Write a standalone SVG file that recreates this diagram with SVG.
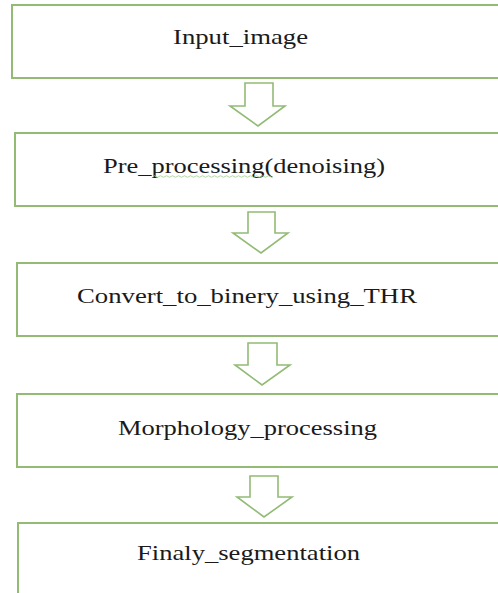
<svg xmlns="http://www.w3.org/2000/svg" width="498" height="593" viewBox="0 0 498 593">
<style>
.box{fill:#fff;stroke:#93bb76;stroke-width:2}
.arr{fill:#fff;stroke:#93bb76;stroke-width:1.6;stroke-linejoin:miter}
.lbl{font-family:"Liberation Serif","Times New Roman",serif;font-size:22px;fill:#1a1a1a}
</style>
<rect width="498" height="593" fill="#fff"/>
<g id="connectors">
<path class="arr" d="M245,83 H273 V106 H285 L258,126 L230,106 H245 Z"/>
<path class="arr" d="M248,212 H275 V233 H288 L261,253 L233,233 H248 Z"/>
<path class="arr" d="M248,343 H277 V365 H290 L262,385 L235,365 H248 Z"/>
<path class="arr" d="M250,476 H278 V497 H292 L264,517 L237,497 H250 Z"/>
</g>
<g id="n1">
<rect class="box" x="12" y="5" width="500" height="73"/>
<text class="lbl" x="173" y="44" textLength="135" lengthAdjust="spacingAndGlyphs">Input_image</text>
</g>
<g id="n2">
<rect class="box" x="15" y="133" width="500" height="73"/>
<text class="lbl" x="103" y="173" textLength="282" lengthAdjust="spacingAndGlyphs">Pre_processing(denoising)</text>
<path d="M153,176.5 q1.5,-1.5 3,0 t3,0 t3,0 t3,0 t3,0 t3,0 t3,0 t3,0 t3,0 t3,0 t3,0 t3,0 t3,0 t3,0 t3,0 t3,0 t3,0 t3,0 t3,0 t3,0 t3,0 t3,0 t3,0 t3,0 t3,0 t3,0 t3,0 t3,0 t3,0 t3,0 t3,0 t3,0 t3,0 t3,0 t3,0 t3,0 t3,0 t3,0 t3,0 t3,0" fill="none" stroke="#9ccf8a" stroke-width="0.8"/>
</g>
<g id="n3">
<rect class="box" x="17" y="263" width="500" height="73"/>
<text class="lbl" x="77" y="303" textLength="340" lengthAdjust="spacingAndGlyphs">Convert_to_binery_using_THR</text>
</g>
<g id="n4">
<rect class="box" x="17" y="394" width="500" height="73"/>
<text class="lbl" x="118" y="435" textLength="259" lengthAdjust="spacingAndGlyphs">Morphology_processing</text>
</g>
<g id="n5">
<rect class="box" x="18" y="523" width="500" height="80"/>
<text class="lbl" x="137" y="560" textLength="223" lengthAdjust="spacingAndGlyphs">Finaly_segmentation</text>
</g>
</svg>
